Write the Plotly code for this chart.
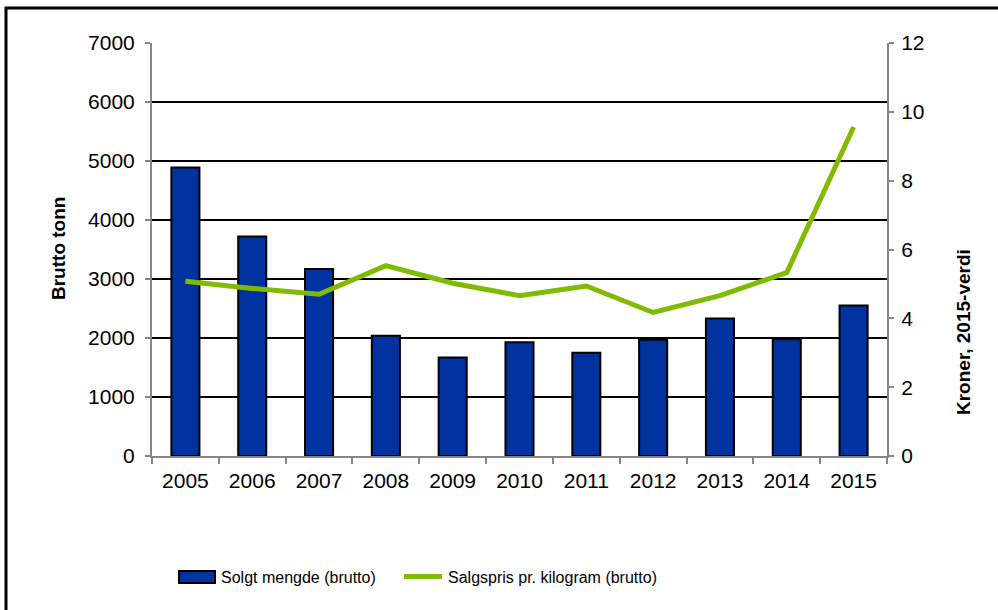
import plotly.graph_objects as go

years = ["2005", "2006", "2007", "2008", "2009", "2010", "2011", "2012", "2013", "2014", "2015"]
solgt_mengde = [4890, 3720, 3170, 2040, 1670, 1930, 1750, 1970, 2330, 1980, 2550]
salgspris = [5.08, 4.87, 4.70, 5.53, 5.02, 4.66, 4.94, 4.17, 4.66, 5.33, 9.56]

bar_name = "Solgt mengde (brutto)"
line_name = "Salgspris pr. kilogram (brutto)"
left_title = "Brutto tonn"
right_title = "Kroner, 2015-verdi"

BAR_COLOR = "#0033a0"
LINE_COLOR = "#80bb00"
AXIS_GRAY = "#868686"
FONT = "Liberation Sans, Arial, sans-serif"

W, H = 998, 610
L, R, T, B = 152, 111, 43, 154
pw, ph = W - L - R, H - T - B


def px(x):
    return (x - L) / pw


def py(y):
    return (H - B - y) / ph


fig = go.Figure()
fig.add_trace(go.Bar(
    x=years, y=solgt_mengde, name=bar_name,
    marker=dict(color=BAR_COLOR, line=dict(color="black", width=2)),
    width=0.42, showlegend=False,
))
fig.add_trace(go.Scatter(
    x=years, y=salgspris, name=line_name, yaxis="y2", mode="lines",
    line=dict(color=LINE_COLOR, width=5), showlegend=False,
))

fig.update_layout(
    width=W, height=H,
    margin=dict(l=L, r=R, t=T, b=B, pad=0),
    paper_bgcolor="white", plot_bgcolor="white",
    font=dict(family=FONT, size=21, color="black"),
    xaxis=dict(
        type="category", range=[-0.5, 10.5], tickson="boundaries",
        ticks="outside", ticklen=6, tickwidth=2, tickcolor=AXIS_GRAY,
        showline=True, linecolor=AXIS_GRAY, linewidth=2,
        showgrid=False, zeroline=False, tickfont=dict(size=21),
        ticklabelstandoff=5,
    ),
    yaxis=dict(
        range=[0, 7000], dtick=1000, tick0=0,
        showgrid=True, gridcolor="black", gridwidth=2,
        showline=True, linecolor=AXIS_GRAY, linewidth=2,
        ticks="outside", ticklen=5, tickwidth=2, tickcolor=AXIS_GRAY,
        zeroline=False, tickfont=dict(size=21), ticklabelstandoff=6,
    ),
    yaxis2=dict(
        overlaying="y", side="right", range=[0, 12], dtick=2, tick0=0,
        showgrid=False, zeroline=False,
        showline=True, linecolor=AXIS_GRAY, linewidth=2,
        ticks="outside", ticklen=5, tickwidth=2, tickcolor=AXIS_GRAY,
        tickfont=dict(size=21), ticklabelstandoff=3,
    ),
    bargap=0.58,
)

annotations = [
    dict(text=f"<b>{left_title}</b>", x=px(58), y=py(249), xref="paper", yref="paper",
         textangle=-90, showarrow=False, xanchor="center", yanchor="middle",
         font=dict(size=19, family=FONT)),
    dict(text=f"<b>{right_title}</b>", x=px(963), y=py(332), xref="paper", yref="paper",
         textangle=-90, showarrow=False, xanchor="center", yanchor="middle",
         font=dict(size=19, family=FONT)),
    dict(text=bar_name, x=px(219), y=py(577), xref="paper", yref="paper",
         showarrow=False, xanchor="left", yanchor="middle",
         font=dict(size=16, family=FONT)),
    dict(text=line_name, x=px(446), y=py(577), xref="paper", yref="paper",
         showarrow=False, xanchor="left", yanchor="middle",
         font=dict(size=16, family=FONT)),
]
fig.update_layout(annotations=annotations)

shapes = [
    # outer frame
    dict(type="rect", xref="paper", yref="paper",
         x0=px(6), x1=px(1010), y0=py(8), y1=py(620),
         line=dict(color="black", width=3), fillcolor="rgba(0,0,0,0)"),
    # legend bar symbol
    dict(type="rect", xref="paper", yref="paper",
         x0=px(179), x1=px(215), y0=py(571), y1=py(583),
         line=dict(color="black", width=2), fillcolor=BAR_COLOR),
    # legend line symbol
    dict(type="line", xref="paper", yref="paper",
         x0=px(404), x1=px(442), y0=py(576.5), y1=py(576.5),
         line=dict(color=LINE_COLOR, width=5)),
]
fig.update_layout(shapes=shapes)

fig.write_html("out.html", config={"displayModeBar": False},
               post_script="document.body.style.margin='0';document.body.style.overflow='hidden';")
